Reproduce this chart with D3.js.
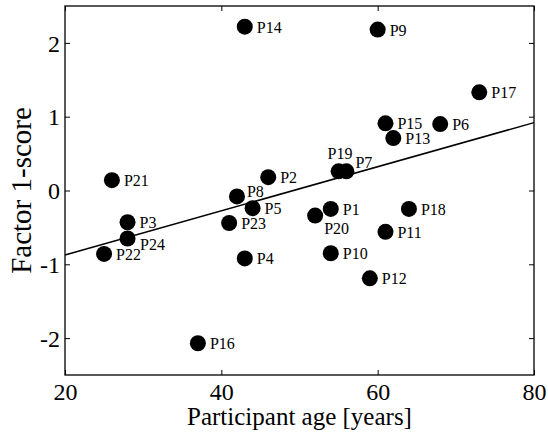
<!DOCTYPE html>
<html>
<head>
<meta charset="utf-8">
<script src="https://cdn.jsdelivr.net/npm/d3@7"></script>
<style>
  html, body { margin: 0; padding: 0; background: #fff; }
  svg { display: block; }
</style>
</head>
<body>
<script>
// Participants and their factor 1-scores against age
const participants = ["P1","P2","P3","P4","P5","P6","P7","P8","P9","P10","P11","P12",
                      "P13","P14","P15","P16","P17","P18","P19","P20","P21","P22","P23","P24"];
const ages   = [54, 46, 28, 43, 44, 68, 56, 42, 60, 54, 61, 59,
                62, 43, 61, 37, 73, 64, 55, 52, 26, 25, 41, 28];
const scores = [-0.25, 0.18, -0.43, -0.92, -0.24, 0.90, 0.26, -0.08, 2.18, -0.85, -0.56, -1.19,
                0.71, 2.22, 0.91, -2.07, 1.33, -0.25, 0.26, -0.34, 0.14, -0.86, -0.44, -0.65];

// Least-squares fit line, given by its end points
const fitAges   = [20, 80];
const fitScores = [-0.874, 0.92];

// Axis ticks
const xTicks = [20, 40, 60, 80];
const yTicks = [-2, -1, 0, 1, 2];

// Label placement (text start and baseline relative to the dot)
const labelDefault = { dx: 12, dy: 6 };
const labelOffsets = {
  P19: { dx: -11, dy: -12.5 },
  P7:  { dx: 9,   dy: -3 },
  P20: { dx: 9,   dy: 18.5 },
  P24: { dx: 12.5, dy: 12 },
  P8:  { dx: 10,  dy: 1 }
};

const SERIF = '"Liberation Serif", "Times New Roman", Times, serif';
const W = 548, H = 435;
const plot = { left: 65, right: 534, top: 6, bottom: 375 };

const svg = d3.select("body").append("svg")
  .attr("width", W).attr("height", H);

const x = d3.scaleLinear().domain([20, 80]).range([plot.left, plot.right]);
const y = d3.scaleLinear().domain([-2.5, 2.5]).range([plot.bottom, plot.top]);

const tickLen = 5;
const plain = d => String(d);

// Bottom and left axes, ticks pointing into the box
const gx = svg.append("g").attr("transform", `translate(0,${plot.bottom})`)
  .call(d3.axisBottom(x).tickValues(xTicks).tickSizeInner(-tickLen).tickSizeOuter(0)
        .tickPadding(10).tickFormat(plain));
const gy = svg.append("g").attr("transform", `translate(${plot.left},0)`)
  .call(d3.axisLeft(y).tickValues(yTicks).tickSizeInner(-tickLen).tickSizeOuter(0)
        .tickPadding(5).tickFormat(plain));
// Mirrored ticks on the top and right
const gt = svg.append("g").attr("transform", `translate(0,${plot.top})`)
  .call(d3.axisTop(x).tickValues(xTicks).tickSizeInner(-tickLen).tickSizeOuter(0).tickFormat(""));
const gr = svg.append("g").attr("transform", `translate(${plot.right},0)`)
  .call(d3.axisRight(y).tickValues(yTicks).tickSizeInner(-tickLen).tickSizeOuter(0).tickFormat(""));

[gx, gy, gt, gr].forEach(g => {
  g.select(".domain").remove();
  g.selectAll(".tick line").attr("stroke", "#000").attr("stroke-width", 1);
  g.selectAll(".tick text").attr("fill", "#000")
    .style("font-family", SERIF).style("font-size", "24px");
});
gx.selectAll(".tick text").attr("dy", null).attr("y", 25);
gy.selectAll(".tick text").attr("dy", "0.34em");

// Box
svg.append("rect")
  .attr("x", plot.left).attr("y", plot.top)
  .attr("width", plot.right - plot.left).attr("height", plot.bottom - plot.top)
  .attr("fill", "none").attr("stroke", "#000").attr("stroke-width", 1.3);

// Fit line
svg.append("line")
  .attr("x1", x(fitAges[0])).attr("y1", y(fitScores[0]))
  .attr("x2", x(fitAges[1])).attr("y2", y(fitScores[1]))
  .attr("stroke", "#000").attr("stroke-width", 1.5);

// Dots
const pts = participants.map((p, i) => ({ name: p, age: ages[i], score: scores[i] }));
svg.append("g").selectAll("circle").data(pts).join("circle")
  .attr("cx", d => x(d.age)).attr("cy", d => y(d.score))
  .attr("r", 8).attr("fill", "#000");

// Participant labels
svg.append("g").selectAll("text").data(pts).join("text")
  .attr("x", d => x(d.age) + (labelOffsets[d.name] || labelDefault).dx)
  .attr("y", d => y(d.score) + (labelOffsets[d.name] || labelDefault).dy)
  .style("font-family", SERIF).style("font-size", "16px")
  .attr("fill", "#000")
  .text(d => d.name);

// Axis titles
svg.append("text")
  .attr("x", (plot.left + plot.right) / 2).attr("y", 425)
  .attr("text-anchor", "middle")
  .style("font-family", SERIF).style("font-size", "25px")
  .attr("fill", "#000")
  .text("Participant age [years]");
svg.append("text")
  .attr("transform", `translate(31,${(plot.top + plot.bottom) / 2}) rotate(-90)`)
  .attr("text-anchor", "middle")
  .style("font-family", SERIF).style("font-size", "29px")
  .attr("fill", "#000")
  .text("Factor 1-score");
</script>
</body>
</html>
